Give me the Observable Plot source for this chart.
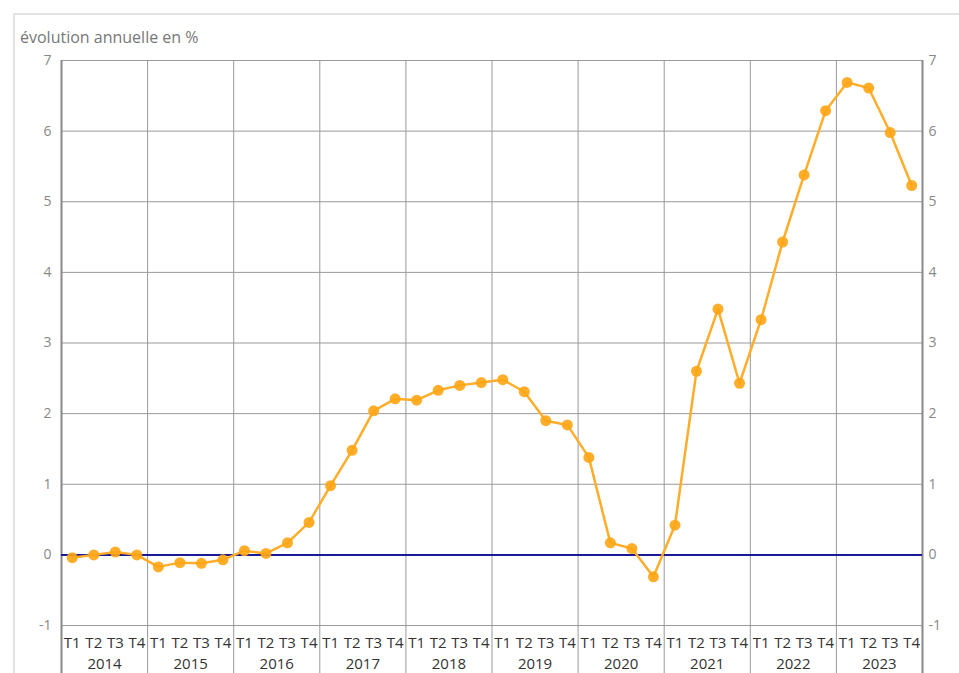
<!DOCTYPE html>
<html><head><meta charset="utf-8">
<script src="https://cdn.jsdelivr.net/npm/d3@7"></script>
<script src="https://cdn.jsdelivr.net/npm/@observablehq/plot@0.6"></script>
<style>
html,body{margin:0;padding:0;background:#fff;overflow:hidden;width:959px;height:673px;}
#frame{position:absolute;left:13px;top:13px;width:1000px;height:1000px;border:2px solid #e3e3e3;box-sizing:border-box;}
#title{position:absolute;left:20px;top:26px;font:16px "Open Sans";color:#777;white-space:nowrap;}
#chart{position:absolute;left:0;top:0;}
</style></head><body>
<div id="frame"></div>
<div id="chart"></div>
<div id="title">évolution annuelle en %</div>
<script>
const years = [2014, 2015, 2016, 2017, 2018, 2019, 2020, 2021, 2022, 2023];
const quarters = ["T1", "T2", "T3", "T4"];
const values = [
  -0.04, 0.00, 0.04, 0.00,
  -0.17, -0.11, -0.12, -0.07,
  0.06, 0.02, 0.17, 0.46,
  0.98, 1.48, 2.04, 2.21,
  2.19, 2.33, 2.40, 2.44,
  2.48, 2.31, 1.90, 1.84,
  1.38, 0.17, 0.09, -0.31,
  0.42, 2.60, 3.48, 2.43,
  3.33, 4.43, 5.38, 6.29,
  6.69, 6.61, 5.98, 5.23
];
const yTicks = [-1, 0, 1, 2, 3, 4, 5, 6, 7];

const rows = [];
years.forEach((yr, yi) => quarters.forEach((q, qi) => {
  const i = yi * 4 + qi;
  rows.push({i, year: yr, q, v: values[i]});
}));
const yearRows = years.map((yr, yi) => ({year: yr, c: yi * 4 + 1.5}));
const bounds = d3.range(0, years.length + 1).map(k => k * 4 - 0.5);
const inner = bounds.slice(1, -1);
const outer = [bounds[0], bounds[bounds.length - 1]];

const chart = Plot.plot({
  width: 959,
  height: 673,
  marginLeft: 61,
  marginRight: 37,
  marginTop: 60,
  marginBottom: 48,
  style: {fontFamily: "Open Sans", fontSize: "14px", background: "transparent", overflow: "visible"},
  x: {type: "linear", domain: [-0.5, rows.length - 0.5], axis: null},
  y: {domain: [-1, 7], axis: null},
  marks: [
    Plot.gridY(yTicks, {stroke: "#999", strokeOpacity: 1, strokeWidth: 1}),
    Plot.ruleX(inner, {x: d => d, y1: 7, y2: -1.75, stroke: "#999", strokeWidth: 1}),
    Plot.ruleX(outer, {x: d => d, y1: 7, y2: -1.75, stroke: "#888", strokeWidth: 2}),
    Plot.ruleY([0], {stroke: "#1a1a99", strokeWidth: 2}),
    Plot.line(rows, {x: "i", y: "v", stroke: "#FFAD2A", strokeWidth: 2.5}),
    Plot.dot(rows, {x: "i", y: "v", r: 5.5, fill: "#FFA514", fillOpacity: 0.9, stroke: "none"}),
    Plot.axisY(yTicks, {anchor: "left", label: null, tickSize: 0, tickPadding: 10, color: "#888", fontSize: 14, tickFormat: d => String(d)}),
    Plot.axisY(yTicks, {anchor: "right", label: null, tickSize: 0, tickPadding: 6, color: "#888", fontSize: 14, tickFormat: d => String(d)}),
    Plot.text(rows, {x: "i", y: () => -1, text: "q", dy: 18, fill: "#333", fontSize: 15}),
    Plot.text(yearRows, {x: "c", y: () => -1, text: d => String(d.year), dy: 39, fill: "#333", fontSize: 15})
  ]
});
document.getElementById("chart").appendChild(chart);
</script>
</body></html>
